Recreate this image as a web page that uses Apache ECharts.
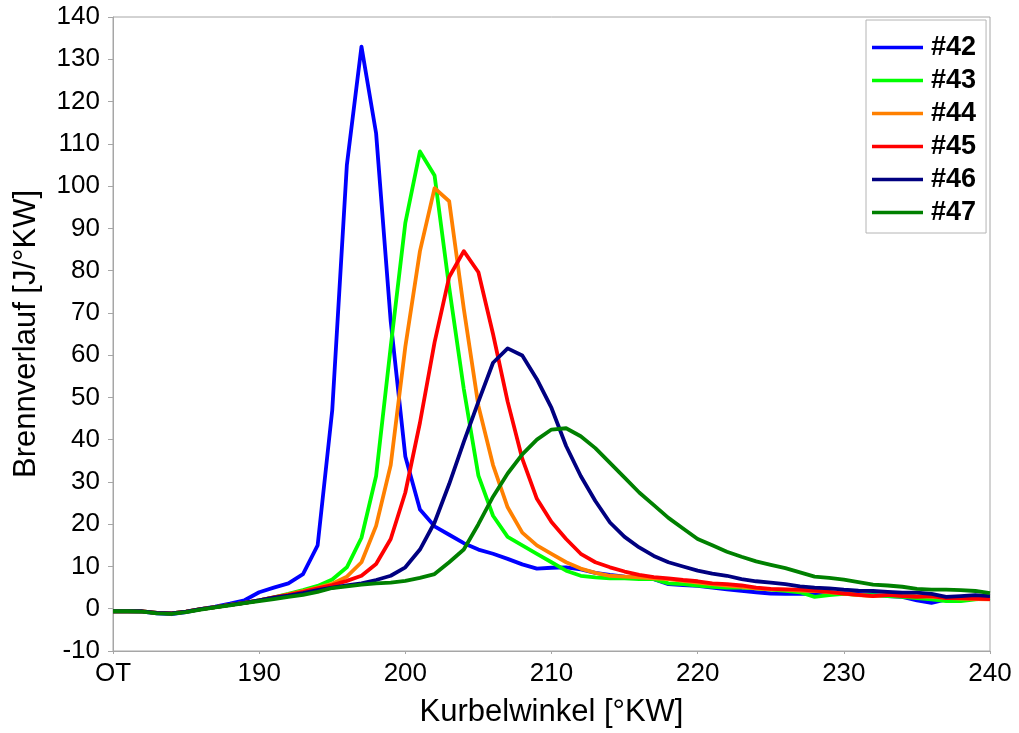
<!DOCTYPE html>
<html>
<head>
<meta charset="utf-8">
<script src="https://cdn.jsdelivr.net/npm/echarts@6/dist/echarts.min.js"></script>
<style>
  html, body { margin: 0; padding: 0; background: #fff; }
  #chart { width: 1019px; height: 733px; }
</style>
</head>
<body>
<div id="chart"></div>
<script>
// Crank angle samples [°KW], one per degree
const angles = [
  180, 181, 182, 183, 184, 185, 186, 187, 188, 189,
  190, 191, 192, 193, 194, 195, 196, 197, 198, 199,
  200, 201, 202, 203, 204, 205, 206, 207, 208, 209,
  210, 211, 212, 213, 214, 215, 216, 217, 218, 219,
  220, 221, 222, 223, 224, 225, 226, 227, 228, 229,
  230, 231, 232, 233, 234, 235, 236, 237, 238, 239, 240
];

// Heat release rate [J/°KW] per operating point
const op42 = [
  -0.6, -0.6, -0.7, -1.1, -1.3, -0.8, -0.1, 0.5, 1.2, 2.0,
  3.9, 5.0, 6.0, 8.2, 15, 47, 105, 133, 112.5, 68,
  36, 23.5, 19.5, 17.5, 15.5, 14, 13, 11.8, 10.5, 9.5,
  9.7, 9.8, 9.3, 8.5, 8, 7.6, 7.4, 7, 5.8, 5.6,
  5.4, 5, 4.6, 4.2, 3.9, 3.6, 3.5, 3.5, 3.5, 3.7,
  3.7, 3.5, 3.3, 3, 2.8, 2, 1.4, 2.2, 2.5, 2.7, 2.7
];
const op43 = [
  -0.6, -0.6, -0.6, -1.0, -1.1, -0.7, -0.1, 0.4, 0.9, 1.4,
  2.0, 2.7, 3.5, 4.4, 5.4, 6.9, 9.8, 16.8, 31.4, 62,
  91.3, 108.2, 102.5, 76, 52, 31.5, 22, 17, 15, 13,
  11, 9, 7.8, 7.4, 7.2, 7.2, 7, 7, 6, 5.8,
  5.5, 5.2, 5, 5, 4.8, 4.5, 4.2, 3.9, 2.8, 3.2,
  3.5, 3.3, 3.2, 3, 2.8, 2.5, 2.2, 1.8, 1.8, 2.2, 2.5
];
const op44 = [
  -0.6, -0.6, -0.6, -1.0, -1.1, -0.7, -0.1, 0.4, 0.9, 1.4,
  2.0, 2.7, 3.4, 4.2, 5.0, 5.9, 7.6, 11, 19.6, 34,
  62, 84.6, 99.5, 96.4, 71, 48, 34, 24, 18, 15,
  13, 11, 9.5, 8.5, 7.8, 7.6, 7.4, 7.2, 7, 6.6,
  6.2, 5.8, 5.5, 5.2, 4.8, 4.6, 4.5, 4.3, 4.2, 3.9,
  3.6, 3.2, 3, 3.2, 3.2, 3, 2.8, 2.6, 2.4, 2.3, 2.2
];
const op45 = [
  -0.6, -0.6, -0.6, -1.0, -1.1, -0.7, -0.1, 0.4, 0.9, 1.4,
  2.0, 2.7, 3.3, 4.0, 4.8, 5.6, 6.6, 7.8, 10.6, 16.5,
  27.5, 44, 63, 78.5, 84.6, 79.6, 65, 49, 35.5, 26,
  20.5, 16.5, 13, 11, 9.8, 8.8, 8, 7.5, 7.2, 6.8,
  6.5, 6, 5.8, 5.5, 5, 4.7, 4.6, 4.5, 4.3, 4,
  3.6, 3.3, 3, 3.3, 3, 2.8, 3, 2.5, 2.5, 2.4, 2.3
];
const op46 = [
  -0.6, -0.6, -0.6, -1.0, -1.1, -0.7, -0.1, 0.4, 0.9, 1.4,
  2.0, 2.6, 3.1, 3.7, 4.4, 5.0, 5.5, 6.0, 6.8, 7.8,
  9.8, 14, 20.4, 29.5, 39.5, 49, 58.2, 61.6, 59.9, 54.3,
  47.5, 38.5, 31.4, 25.5, 20.4, 17, 14.5, 12.5, 11, 10,
  9, 8.3, 7.8, 7, 6.5, 6.2, 5.8, 5.3, 5, 4.8,
  4.5, 4.3, 4.2, 4, 3.8, 3.8, 3.5, 2.8, 3, 3.2, 3
];
const op47 = [
  -0.6, -0.6, -0.7, -1.1, -1.2, -0.8, -0.2, 0.3, 0.8, 1.3,
  1.8, 2.3, 2.8, 3.3, 4.0, 4.9, 5.3, 5.7, 6.0, 6.2,
  6.6, 7.3, 8.2, 11, 14, 20, 26.5, 32, 36.5, 40,
  42.4, 42.7, 40.8, 38, 34.5, 31, 27.5, 24.5, 21.5, 19,
  16.5, 15, 13.5, 12.3, 11.2, 10.4, 9.6, 8.6, 7.6, 7.3,
  6.9, 6.3, 5.7, 5.5, 5.2, 4.7, 4.5, 4.5, 4.4, 4.2, 3.7
];

const seriesNames = ['#42', '#43', '#44', '#45', '#46', '#47'];
const seriesData = [op42, op43, op44, op45, op46, op47];
const seriesColors = ['#0000ff', '#00ff00', '#ff8000', '#ff0000', '#000080', '#008000'];

// Axis tick labels
const xTickValues = [180, 190, 200, 210, 220, 230, 240];
const xTickLabels = ['OT', '190', '200', '210', '220', '230', '240'];

const FONT = '"Liberation Sans", Arial, sans-serif';
const GRAY = '#a6a6a6';

const chart = echarts.init(document.getElementById('chart'), null, { renderer: 'canvas' });

chart.setOption({
  animation: false,
  backgroundColor: '#ffffff',
  textStyle: { fontFamily: FONT },
  grid: {
    left: 113, right: 29, top: 17, bottom: 80,
    show: true, borderColor: GRAY, borderWidth: 1, backgroundColor: 'transparent'
  },
  legend: {
    orient: 'vertical',
    left: 866, top: 20,
    icon: 'rect',
    itemWidth: 51, itemHeight: 3.5,
    itemGap: 0,
    padding: [11, 10, 4, 6],
    borderColor: '#b4b4b4', borderWidth: 1,
    backgroundColor: '#ffffff',
    textStyle: {
      fontFamily: FONT, fontSize: 27, fontWeight: 'bold', color: '#000',
      lineHeight: 33, padding: [0, 0, 0, 3]
    },
    data: seriesNames
  },
  xAxis: {
    type: 'value',
    min: 180, max: 240, interval: 10,
    name: 'Kurbelwinkel [°KW]',
    nameLocation: 'middle', nameGap: 46,
    nameTextStyle: { fontFamily: FONT, fontSize: 31, color: '#000' },
    axisLine: { show: true, onZero: false, lineStyle: { color: GRAY, width: 1 } },
    axisTick: { show: true, inside: false, length: 3, lineStyle: { color: GRAY } },
    splitLine: { show: false },
    axisLabel: {
      fontFamily: FONT, fontSize: 26, color: '#000', margin: 10,
      formatter: function (v) {
        const i = xTickValues.indexOf(v);
        return i >= 0 ? xTickLabels[i] : '';
      }
    }
  },
  yAxis: {
    type: 'value',
    min: -10, max: 140, interval: 10,
    name: 'Brennverlauf [J/°KW]',
    nameLocation: 'middle', nameGap: 71, nameRotate: 90,
    nameTextStyle: { fontFamily: FONT, fontSize: 31, color: '#000' },
    axisLine: { show: true, onZero: false, lineStyle: { color: GRAY, width: 1 } },
    axisTick: { show: true, inside: false, length: 5, lineStyle: { color: GRAY } },
    splitLine: { show: false },
    axisLabel: { fontFamily: FONT, fontSize: 26, color: '#000', margin: 13 }
  },
  series: seriesNames.map(function (name, k) {
    return {
      name: name,
      type: 'line',
      showSymbol: false,
      symbol: 'none',
      color: seriesColors[k],
      lineStyle: { width: 3.8, color: seriesColors[k], join: 'round' },
      data: angles.map(function (a, i) { return [a, seriesData[k][i]]; })
    };
  })
});
</script>
</body>
</html>
